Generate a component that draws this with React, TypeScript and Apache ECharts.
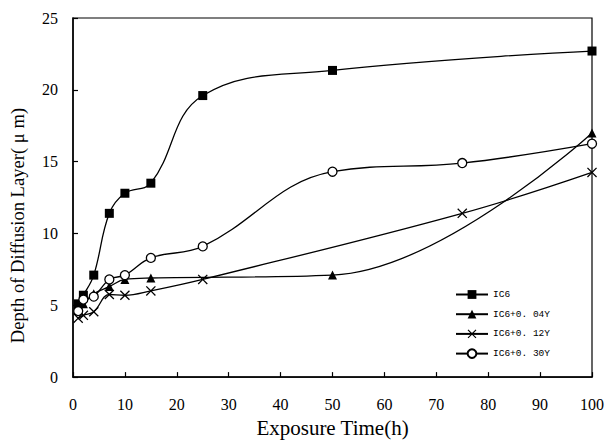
import React, { useEffect, useRef } from "react";
import * as echarts from "echarts";

const xTicks = [0, 10, 20, 30, 40, 50, 60, 70, 80, 90, 100];
const yTicks = [0, 5, 10, 15, 20, 25];

const ic6X = [1, 2, 4, 7, 10, 15, 25, 50, 100];
const ic6Y = [5.1, 5.7, 7.1, 11.4, 12.8, 13.5, 19.6, 21.35, 22.7];

const ic604X = [1, 2, 4, 7, 10, 15, 50, 100];
const ic604Y = [4.9, 5.1, 5.8, 6.3, 6.8, 6.9, 7.1, 17.0];

const ic612X = [1, 2, 4, 7, 10, 15, 25, 75, 100];
const ic612Y = [4.1, 4.3, 4.55, 5.75, 5.7, 6.0, 6.8, 11.4, 14.25];

const ic630X = [1, 2, 4, 7, 10, 15, 25, 50, 75, 100];
const ic630Y = [4.6, 5.4, 5.6, 6.8, 7.1, 8.3, 9.1, 14.3, 14.9, 16.25];

const seriesNames = ["IC6", "IC6+0. 04Y", "IC6+0. 12Y", "IC6+0. 30Y"];

const zip = (xs: number[], ys: number[]) => xs.map((x, i) => [x, ys[i]]);

const crossPath =
  "path://M0,0.9L0.9,0L5,4.1L9.1,0L10,0.9L5.9,5L10,9.1L9.1,10L5,5.9L0.9,10L0,9.1L4.1,5Z";

export default function App() {
  const ref = useRef<HTMLDivElement>(null);
  useEffect(() => {
    if (!ref.current) return;
    const chart = echarts.init(ref.current, undefined, { renderer: "svg" });
    const serif = "Liberation Serif";
    const lineStyle = { color: "#000", width: 1.3 };
    chart.setOption({
      animation: false,
      backgroundColor: "#fff",
      grid: {
        left: 70.5,
        right: 15,
        top: 18,
        bottom: 63,
        show: true,
        borderColor: "#000",
        borderWidth: 1.2,
      },
      legend: {
        orient: "vertical",
        left: 450,
        top: 284,
        itemWidth: 32,
        itemHeight: 11,
        itemGap: 8.7,
        textStyle: { fontFamily: "Liberation Mono", fontSize: 9.5, color: "#000", lineHeight: 11 },
        data: seriesNames,
      },
      xAxis: {
        type: "value",
        min: 0,
        max: 100,
        interval: 10,
        name: "Exposure Time(h)",
        nameLocation: "middle",
        nameGap: 37,
        nameTextStyle: { fontFamily: serif, fontSize: 21, color: "#000" },
        axisLine: { lineStyle: { color: "#000", width: 1.5 } },
        axisTick: { inside: true, length: 5, lineStyle: { color: "#000", width: 1.2 } },
        axisLabel: {
          margin: 19,
          fontFamily: serif,
          fontSize: 16,
          color: "#000",
          formatter: (v: number) => (xTicks.includes(v) ? String(v) : ""),
        },
        splitLine: { show: false },
      },
      yAxis: {
        type: "value",
        min: 0,
        max: 25,
        interval: 5,
        name: "Depth of Diffusion Layer( μ m)",
        nameLocation: "middle",
        nameGap: 46,
        nameTextStyle: { fontFamily: serif, fontSize: 18.6, color: "#000", padding: [0, 56, 0, 0] },
        axisLine: { lineStyle: { color: "#000", width: 1.5 } },
        axisTick: { inside: true, length: 5, lineStyle: { color: "#000", width: 1.2 } },
        axisLabel: {
          margin: 15,
          fontFamily: serif,
          fontSize: 16,
          color: "#000",
          formatter: (v: number) => (yTicks.includes(v) ? String(v) : ""),
        },
        splitLine: { show: false },
      },
      series: [
        {
          name: seriesNames[0],
          type: "line",
          data: zip(ic6X, ic6Y),
          smooth: 0.4,
          symbol: "rect",
          symbolSize: 9,
          lineStyle,
          itemStyle: { color: "#000" },
        },
        {
          name: seriesNames[1],
          type: "line",
          data: zip(ic604X, ic604Y),
          smooth: 0.4,
          symbol: "triangle",
          symbolSize: 9,
          lineStyle,
          itemStyle: { color: "#000" },
        },
        {
          name: seriesNames[2],
          type: "line",
          data: zip(ic612X, ic612Y),
          smooth: 0.4,
          symbol: crossPath,
          symbolSize: 10,
          lineStyle,
          itemStyle: { color: "#000" },
        },
        {
          name: seriesNames[3],
          type: "line",
          data: zip(ic630X, ic630Y),
          smooth: 0.4,
          symbol: "circle",
          symbolSize: 9,
          lineStyle,
          itemStyle: { color: "#fff", borderColor: "#000", borderWidth: 1.3 },
          z: 3,
        },
      ],
    });
    return () => chart.dispose();
  }, []);
  return (
    <div
      ref={ref}
      style={{ position: "absolute", left: 0, top: 0, width: 607, height: 443 }}
    />
  );
}
